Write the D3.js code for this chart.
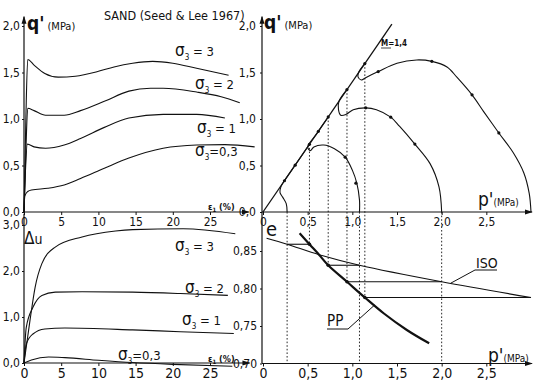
<!DOCTYPE html>
<html><head><meta charset="utf-8">
<script src="https://cdn.jsdelivr.net/npm/d3@7"></script>
<style>
body{margin:0;background:#fff}
svg{display:block}
text{font-family:"Liberation Sans Narrow","DejaVu Sans Condensed","Arial Narrow",sans-serif;fill:#111}
</style>
</head><body>
<svg id="c" width="533" height="384"></svg>
<script>
// ---------- tick labels ----------
const strainTicks=[0,5,10,15,20,25];
const qTicks=[0,0.5,1,1.5,2];
const duTicks=[0,1,2,3];
const pTicks=[0,0.5,1,1.5,2,2.5];
const eTicks=[0.70,0.75,0.80,0.85];
const sigmaLabels=["3","2","1","0,3"];

// ---------- q'-eps1 (MPa vs %) ----------
const qEps3=[0,0.25,0.5,1.35,2.8,4.6,6.9,9.9,12.1,14.6,17.3,20,23.2,27.5];
const qVal3=[0,1.0,1.64,1.58,1.49,1.45,1.46,1.51,1.56,1.60,1.62,1.60,1.545,1.47];
const qEps2=[0,0.25,0.5,1.35,2.9,5.4,7.6,10.8,14.1,17,18.7,23.2,26.5,29.0];
const qVal2=[0,0.65,1.115,1.09,1.04,1.04,1.09,1.19,1.30,1.33,1.33,1.29,1.24,1.175];
const qEps1=[0,0.2,0.45,1.35,2.9,5.4,7.6,10.8,14.1,18.7,23.2,27.0];
const qVal1=[0,0.45,0.73,0.70,0.685,0.72,0.79,0.91,1.01,1.05,1.05,1.01];
const qEps03=[0,0.1,0.5,1.0,3.2,5.4,7.6,10.8,14.1,18.7,23.2,27,31];
const qVal03=[0,0.17,0.22,0.237,0.255,0.29,0.36,0.47,0.58,0.685,0.72,0.725,0.70];

// ---------- delta u - eps1 ----------
const uEps3=[0,0.8,1.5,2.4,4.2,7.8,12.3,14.6,21.4,28.4];
const uVal3=[0,0.92,1.65,2.16,2.52,2.74,2.87,2.90,2.92,2.81];
const uEps2=[0,0.3,1.2,2.4,4.2,7.8,14.6,21,27.4];
const uVal2=[0,0.77,1.21,1.47,1.54,1.55,1.54,1.51,1.47];
const uEps1=[0,0.3,1.2,2.8,5.5,14.6,21,28.2];
const uVal1=[0,0.41,0.63,0.74,0.76,0.72,0.68,0.64];
const uEps03=[0,1.0,3.3,5.5,10,14.6,20,28];
const uVal03=[0,0.066,0.13,0.116,0.06,0.01,-0.03,-0.07];

// ---------- stress paths p'-q' ----------
const Mslope=1.4;
const path3P=[3.0,2.98,2.92,2.80,2.64,2.47,2.34,2.17,2.06,1.89,1.72,1.50,1.29,1.16,1.10,1.065,1.07,1.14];
const path3Q=[0,0.2,0.42,0.64,0.85,1.08,1.26,1.45,1.56,1.62,1.635,1.60,1.51,1.45,1.42,1.45,1.50,1.596];
const path2P=[2.0,1.97,1.87,1.70,1.53,1.43,1.27,1.15,1.01,0.93,0.87,0.845,0.85,0.94];
const path2Q=[0,0.27,0.52,0.73,0.92,1.02,1.10,1.12,1.10,1.05,1.04,1.10,1.19,1.316];
const path1P=[1.08,1.08,1.05,1.0,0.92,0.80,0.68,0.57,0.53,0.50,0.60,0.73];
const path1Q=[0,0.13,0.31,0.45,0.59,0.68,0.72,0.70,0.66,0.70,0.84,1.022];
const path03P=[0.27,0.26,0.22,0.19,0.20,0.23,0.36,0.52];
const path03Q=[0,0.09,0.16,0.21,0.27,0.322,0.504,0.728];
const dotP=[2.64,2.34,1.89,1.29,1.14,1.70,1.43,1.15,0.94,1.04,0.92,0.73,0.24,0.36,0.52,0.62];
const dotQ=[0.85,1.26,1.62,1.51,1.596,0.73,1.02,1.12,1.316,0.31,0.59,1.022,0.336,0.504,0.728,0.868];

// ---------- e - p' ----------
const isoP=[0.04,0.27,0.63,1.08,2.0,3.0];
const isoE=[0.867,0.859,0.845,0.831,0.809,0.788];
const ppP=[0.41,0.52,0.63,0.73,0.94,1.14,1.35,1.61,1.86];
const ppE=[0.8736,0.859,0.8447,0.831,0.809,0.788,0.767,0.7447,0.7269];
const startP=[0.27,1.08,2.0,3.0];
const endP=[0.52,0.73,0.94,1.14];
const endQ=[0.728,1.022,1.316,1.596];
const endE=[0.859,0.831,0.809,0.788];

// ---------- scales ----------
const xE=d3.scaleLinear([0,30],[24,247.2]);
const yQ=d3.scaleLinear([0,2],[212,26]);
const yU=d3.scaleLinear([0,3],[363,225]);
const xP=d3.scaleLinear([0,3],[263,531]);
const yE=d3.scaleLinear([0.70,0.85],[363.5,251]);

const svg=d3.select("#c");
const ink="#111";
const comma=(n)=>d=>d3.format("."+n+"f")(d).replace(".",",");

svg.append("defs").append("marker").attr("id","arr").attr("viewBox","0 0 8 6")
  .attr("refX",7).attr("refY",3).attr("markerWidth",8).attr("markerHeight",6)
  .attr("markerUnits","userSpaceOnUse").attr("orient","auto")
  .append("path").attr("d","M0,0.5L8,3L0,5.5z").attr("fill",ink);

function axisLine(x1,y1,x2,y2,arrow){
  const l=svg.append("line").attr("x1",x1).attr("y1",y1).attr("x2",x2).attr("y2",y2)
    .attr("stroke",ink).attr("stroke-width",1.2);
  if(arrow) l.attr("marker-end","url(#arr)");
}
function styleAxis(sel,fs){
  sel.select(".domain").remove();
  sel.selectAll(".tick line").attr("stroke",ink).attr("stroke-width",1);
  sel.selectAll("text").attr("font-size",fs).attr("fill",ink).attr("font-family",null);
}

axisLine(xE(0),yQ(0),xE(0),yQ(2.1),true);
axisLine(xE(0),yQ(0),xE(30.2),yQ(0),true);
axisLine(xE(0),yU(0),xE(0),yQ(-0.02),false);
axisLine(xE(0),yU(0),xE(30.3),yU(0),true);
axisLine(xP(0)-1,yQ(0),xP(0)-1,yQ(2.1),true);
axisLine(xP(0)-1,yQ(0),xP(3.01),yQ(0),true);
axisLine(xP(0)-1,yE(0.70),xP(0)-1,yQ(0),false);
axisLine(xP(0)-1,yE(0.70),xP(3.01),yE(0.70),true);

svg.append("g").attr("transform",`translate(0,${yQ(0)})`)
  .call(d3.axisBottom(xE).tickValues(strainTicks).tickSize(3).tickPadding(2).tickFormat(d3.format("d")))
  .call(s=>styleAxis(s,12));
svg.append("g").attr("transform",`translate(0,${yU(0)})`)
  .call(d3.axisBottom(xE).tickValues(strainTicks).tickSize(3).tickPadding(2).tickFormat(d3.format("d")))
  .call(s=>styleAxis(s,14));
svg.append("g").attr("transform",`translate(${xE(0)},0)`)
  .call(d3.axisLeft(yQ).tickValues(qTicks).tickSize(2).tickPadding(2).tickFormat(comma(1)))
  .call(s=>styleAxis(s,12));
svg.append("g").attr("transform",`translate(${xE(0)},0)`)
  .call(d3.axisLeft(yU).tickValues(duTicks).tickSize(2).tickPadding(2).tickFormat(comma(1)))
  .call(s=>styleAxis(s,12));
svg.append("g").attr("transform",`translate(${xP(0)-1},0)`)
  .call(d3.axisLeft(yQ).tickValues(qTicks).tickSize(2).tickPadding(4).tickFormat(comma(1)))
  .call(s=>styleAxis(s,12));
svg.append("g").attr("transform",`translate(${xP(0)-1},0)`)
  .call(d3.axisLeft(yE).tickValues(eTicks).tickSize(2).tickPadding(3).tickFormat(comma(2)))
  .call(s=>styleAxis(s,12));
svg.append("g").attr("transform",`translate(0,${yQ(0)})`)
  .call(d3.axisBottom(xP).tickValues(pTicks).tickSize(3).tickPadding(2).tickFormat(d=>d===0?"0":comma(1)(d)))
  .call(s=>styleAxis(s,12));
svg.append("g").attr("transform",`translate(0,${yE(0.70)})`)
  .call(d3.axisBottom(xP).tickValues(pTicks).tickSize(3).tickPadding(2).tickFormat(d=>d===0?"0":comma(1)(d)))
  .call(s=>styleAxis(s,14));

function drawCurve(xs,ys,sx,sy,curve,w){
  const pts=xs.map((x,i)=>[x,ys[i]]);
  svg.append("path").attr("d",d3.line().x(d=>sx(d[0])).y(d=>sy(d[1])).curve(curve)(pts))
    .attr("fill","none").attr("stroke",ink).attr("stroke-width",w||1.1);
}
const mono=d3.curveMonotoneX, cr=d3.curveCatmullRom.alpha(0.5);
[[qEps3,qVal3],[qEps2,qVal2],[qEps1,qVal1],[qEps03,qVal03]].forEach(a=>drawCurve(a[0],a[1],xE,yQ,mono));
[[uEps3,uVal3],[uEps2,uVal2],[uEps1,uVal1],[uEps03,uVal03]].forEach(a=>drawCurve(a[0],a[1],xE,yU,mono));

drawCurve([0,2.02/Mslope],[0,2.02],xP,yQ,d3.curveLinear,1.3);
[[path3P,path3Q],[path2P,path2Q],[path1P,path1Q],[path03P,path03Q]].forEach(a=>drawCurve(a[0],a[1],xP,yQ,cr,1.1));
svg.append("g").selectAll("circle").data(dotP).join("circle")
  .attr("cx",d=>xP(d)).attr("cy",(d,i)=>yQ(dotQ[i])).attr("r",1.6).attr("fill",ink);

drawCurve(isoP,isoE,xP,yE,cr,1.2);
drawCurve(ppP,ppE,xP,yE,cr,2.2);
startP.forEach((p,i)=>drawCurve([endP[i],p],[endE[i],endE[i]],xP,yE,d3.curveLinear,1.1));
svg.append("g").selectAll("circle").data(endP).join("circle")
  .attr("cx",d=>xP(d)).attr("cy",(d,i)=>yE(endE[i])).attr("r",1.8).attr("fill",ink);

const dot="1.6,2";
endP.forEach((p,i)=>svg.append("line").attr("x1",xP(p)).attr("x2",xP(p))
  .attr("y1",yQ(endQ[i])).attr("y2",yE(endE[i])).attr("stroke",ink).attr("stroke-width",0.9).attr("stroke-dasharray",dot));
startP.slice(0,3).forEach(p=>svg.append("line").attr("x1",xP(p)).attr("x2",xP(p))
  .attr("y1",yQ(0)).attr("y2",yE(0.70)).attr("stroke",ink).attr("stroke-width",0.9).attr("stroke-dasharray",dot));

// ---------- labels ----------
function txt(x,y,s,fs,extra){
  const t=svg.append("text").attr("x",x).attr("y",y).attr("font-size",fs).text(s);
  if(extra) extra(t);
  return t;
}
function sig(x,y,val,fs,sp){
  const t=svg.append("text").attr("x",x).attr("y",y).attr("font-size",fs);
  t.append("tspan").attr("font-size",fs*1.3).text("σ");
  t.append("tspan").attr("font-size",fs*0.62).attr("dy",fs*0.3).text("3");
  t.append("tspan").attr("dy",-fs*0.3).text((sp?" = ":"=")+val);
}
txt(104,20,"SAND  (Seed & Lee 1967)",12.5,t=>t.attr("font-family","DejaVu Sans Condensed, sans-serif"));
function qLabel(x,y){
  const t=svg.append("text").attr("x",x).attr("y",y);
  t.append("tspan").attr("font-size",19).attr("font-weight","bold").text("q'");
  t.append("tspan").attr("font-size",11).attr("dx",3).text("(MPa)");
}
qLabel(27,30); qLabel(264,29);
function pLabel(x,y){
  const t=svg.append("text").attr("x",x).attr("y",y);
  t.append("tspan").attr("font-size",19).text("p'");
  t.append("tspan").attr("font-size",10).text("(MPa)");
}
pLabel(478,206); pLabel(488,362);
txt(266,236,"e",20);
const du=svg.append("text").attr("x",24).attr("y",244);
du.append("tspan").attr("font-size",17).text("Δ");
du.append("tspan").attr("font-size",14).text("u");
function epsLabel(x,y){
  const t=svg.append("text").attr("x",x).attr("y",y).attr("font-size",9).attr("font-weight","bold");
  t.append("tspan").text("ε");
  t.append("tspan").attr("font-size",6).attr("dy",2).text("1");
  t.append("tspan").attr("dy",-2).text(" (%)");
}
epsLabel(208,210); epsLabel(208,362);
sig(175,56,sigmaLabels[0],13,true);
sig(195,89,sigmaLabels[1],13,true);
sig(197,133,sigmaLabels[2],13,true);
sig(195,156,sigmaLabels[3],13,false);
sig(175,251,sigmaLabels[0],13,true);
sig(185,293,sigmaLabels[1],13,true);
sig(182,325,sigmaLabels[2],13,true);
sig(118,360,sigmaLabels[3],13,false);
txt(381,46,"M=1,4",8,t=>t.attr("font-weight","bold"));
svg.append("line").attr("x1",381).attr("x2",391).attr("y1",48).attr("y2",48).attr("stroke",ink).attr("stroke-width",0.8);
txt(476,268,"ISO",14);
svg.append("path").attr("d",`M497,270H475L${xP(2.1)},${yE(0.807)}`).attr("fill","none").attr("stroke",ink).attr("stroke-width",1);
txt(327,326,"PP",15);
svg.append("path").attr("d",`M327,329H348L${xP(1.25)},${yE(0.778)}`).attr("fill","none").attr("stroke",ink).attr("stroke-width",1);
</script>
</body></html>
